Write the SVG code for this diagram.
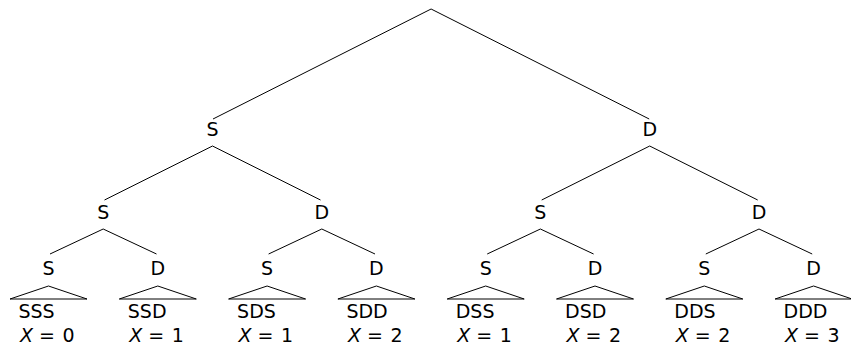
<svg xmlns="http://www.w3.org/2000/svg" width="851" height="345" viewBox="0 0 851 345">
<style>
.e{stroke:#000;stroke-width:1;fill:none}
.r{stroke:#000;stroke-width:1;fill:none;stroke-linejoin:miter}
text{font-family:"DejaVu Sans",sans-serif;font-size:19px;fill:#000}
.n{text-anchor:middle}
.i{font-style:italic}
</style>
<rect width="851" height="345" fill="#fff"/>
<g id="connectors">
<path class="e" d="M431.1,9 L213,119 M431.1,9 L649.2,119"/>
<path class="e" d="M212.5,146 L104.5,200 M212.5,146 L320.5,200 M649.7,146 L541.7,200 M649.7,146 L757.7,200"/>
<path class="e" d="M103.2,229 L50,254 M103.2,229 L156.5,254 M321.8,229 L268.6,254 M321.8,229 L375,254 M540.4,229 L487.2,254 M540.4,229 L593.6,254 M759,229 L705.8,254 M759,229 L812.2,254"/>
</g>
<g id="n-S"><text class="n" x="212.5" y="136">S</text></g>
<g id="n-D"><text class="n" x="649.7" y="136">D</text></g>
<g id="n-SS"><text class="n" x="103.2" y="219">S</text></g>
<g id="n-SD"><text class="n" x="321.8" y="219">D</text></g>
<g id="n-DS"><text class="n" x="540.4" y="219">S</text></g>
<g id="n-DD"><text class="n" x="759" y="219">D</text></g>
<g id="n-SSS"><text class="n" x="48.5" y="275">S</text><path class="r" d="M10,299 L48.5,286 L87,299 Z"/><text x="18.5" y="318">SSS</text><text x="20" y="342"><tspan class="i">X</tspan><tspan x="39">=</tspan><tspan x="62.5">0</tspan></text></g>
<g id="n-SSD"><text class="n" x="157.8" y="275">D</text><path class="r" d="M119.3,299 L157.8,286 L196.3,299 Z"/><text x="127.8" y="318">SSD</text><text x="129.3" y="342"><tspan class="i">X</tspan><tspan x="148.3">=</tspan><tspan x="171.8">1</tspan></text></g>
<g id="n-SDS"><text class="n" x="267.1" y="275">S</text><path class="r" d="M228.6,299 L267.1,286 L305.6,299 Z"/><text x="237.1" y="318">SDS</text><text x="238.6" y="342"><tspan class="i">X</tspan><tspan x="257.6">=</tspan><tspan x="281.1">1</tspan></text></g>
<g id="n-SDD"><text class="n" x="376.4" y="275">D</text><path class="r" d="M337.9,299 L376.4,286 L414.9,299 Z"/><text x="346.4" y="318">SDD</text><text x="347.9" y="342"><tspan class="i">X</tspan><tspan x="366.9">=</tspan><tspan x="390.4">2</tspan></text></g>
<g id="n-DSS"><text class="n" x="485.7" y="275">S</text><path class="r" d="M447.2,299 L485.7,286 L524.2,299 Z"/><text x="455.7" y="318">DSS</text><text x="457.2" y="342"><tspan class="i">X</tspan><tspan x="476.2">=</tspan><tspan x="499.7">1</tspan></text></g>
<g id="n-DSD"><text class="n" x="595" y="275">D</text><path class="r" d="M556.5,299 L595,286 L633.5,299 Z"/><text x="565" y="318">DSD</text><text x="566.5" y="342"><tspan class="i">X</tspan><tspan x="585.5">=</tspan><tspan x="609">2</tspan></text></g>
<g id="n-DDS"><text class="n" x="704.3" y="275">S</text><path class="r" d="M665.8,299 L704.3,286 L742.8,299 Z"/><text x="674.3" y="318">DDS</text><text x="675.8" y="342"><tspan class="i">X</tspan><tspan x="694.8">=</tspan><tspan x="718.3">2</tspan></text></g>
<g id="n-DDD"><text class="n" x="813.6" y="275">D</text><path class="r" d="M775.1,299 L813.6,286 L852.1,299 Z"/><text x="783.6" y="318">DDD</text><text x="785.1" y="342"><tspan class="i">X</tspan><tspan x="804.1">=</tspan><tspan x="827.6">3</tspan></text></g>
</svg>
